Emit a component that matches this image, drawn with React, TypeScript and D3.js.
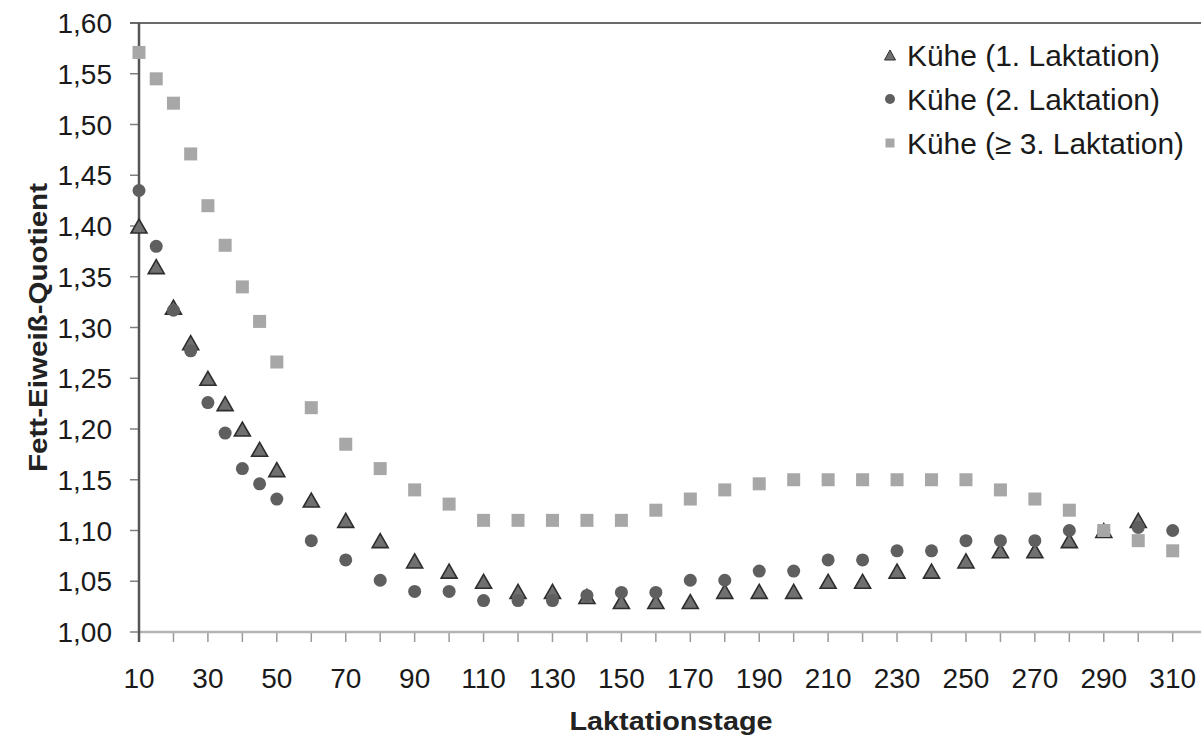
import React from "react";
import * as d3 from "d3";

const days = [10, 15, 20, 25, 30, 35, 40, 45, 50, 60, 70, 80, 90, 100, 110, 120, 130, 140, 150, 160, 170, 180, 190, 200, 210, 220, 230, 240, 250, 260, 270, 280, 290, 300, 310];

const lact1: (number | null)[] = [1.40, 1.36, 1.32, 1.285, 1.25, 1.225, 1.20, 1.18, 1.16, 1.13, 1.11, 1.09, 1.07, 1.06, 1.05, 1.04, 1.04, 1.035, 1.03, 1.03, 1.03, 1.04, 1.04, 1.04, 1.05, 1.05, 1.06, 1.06, 1.07, 1.08, 1.08, 1.09, 1.10, 1.11, null];

const lact2: (number | null)[] = [1.435, 1.38, 1.317, 1.277, 1.226, 1.196, 1.161, 1.146, 1.131, 1.09, 1.071, 1.051, 1.04, 1.04, 1.031, 1.031, 1.031, 1.036, 1.039, 1.039, 1.051, 1.051, 1.06, 1.06, 1.071, 1.071, 1.08, 1.08, 1.09, 1.09, 1.09, 1.10, 1.10, 1.103, 1.10];

const lact3: (number | null)[] = [1.571, 1.545, 1.521, 1.471, 1.42, 1.381, 1.34, 1.306, 1.266, 1.221, 1.185, 1.161, 1.14, 1.126, 1.11, 1.11, 1.11, 1.11, 1.11, 1.12, 1.131, 1.14, 1.146, 1.15, 1.15, 1.15, 1.15, 1.15, 1.15, 1.14, 1.131, 1.12, 1.10, 1.09, 1.08];

const xTicks = d3.range(10, 311, 10);
const xLabels = d3.range(10, 311, 20);
const yTicks = d3.range(0, 13).map((i) => 1 + i * 0.05);

const legendLabels = ["Kühe (1. Laktation)", "Kühe (2. Laktation)", "Kühe (≥ 3. Laktation)"];

const W = 1201;
const H = 738;
const left = 139;
const top = 23;
const bottom = 632;
const right = 1201;

const FONT = "'Liberation Sans', Arial, sans-serif";

export default function App() {
  const x = d3.scaleLinear().domain([10, 310]).range([left, 1172.7]);
  const y = d3.scaleLinear().domain([1.0, 1.6]).range([bottom, top]);
  const fmt = (v: number) => v.toFixed(2).replace(".", ",");

  const tri = (cx: number, cy: number, w: number, h: number) =>
    `M${cx - w / 2},${cy + h / 2}L${cx + w / 2},${cy + h / 2}L${cx},${cy - h / 2}Z`;

  const legendRows = [55, 99, 143];
  const legendWidths = [253, 253, 277];

  return (
    <svg
      width={W}
      height={H}
      style={{ position: "absolute", left: 0, top: 0, background: "#fff" }}
      fontFamily={FONT}
    >
      {/* y ticks & labels */}
      {yTicks.map((t, i) => (
        <g key={"yt" + i}>
          <line x1={left - 9} x2={left} y1={y(t)} y2={y(t)} stroke="#808080" strokeWidth={1.5} />
          <text x={112} y={y(t)} dy="0.36em" textAnchor="end" fontSize={28} fill="#1a1a1a">
            {fmt(t)}
          </text>
        </g>
      ))}
      {/* x ticks & labels */}
      {xTicks.map((t) => (
        <line key={"xt" + t} x1={x(t)} x2={x(t)} y1={bottom} y2={bottom + 10} stroke="#9a9a9a" strokeWidth={1.5} />
      ))}
      {xLabels.map((t) => (
        <text key={"xl" + t} x={x(t)} y={688} textAnchor="middle" fontSize={28} fill="#1a1a1a">
          {t}
        </text>
      ))}
      {/* frame */}
      <line x1={left - 9} x2={right} y1={top} y2={top} stroke="#6a6a6a" strokeWidth={2} />
      <line x1={left} x2={right} y1={bottom} y2={bottom} stroke="#b4b4b4" strokeWidth={2.5} />
      <line x1={left} x2={left} y1={top} y2={bottom + 10} stroke="#555" strokeWidth={2.5} />

      {/* titles */}
      <text
        x={671}
        y={730}
        textAnchor="middle"
        fontSize={26}
        fontWeight="bold"
        fill="#222"
        textLength={203}
        lengthAdjust="spacingAndGlyphs"
      >
        Laktationstage
      </text>
      <text
        transform={`translate(47,327.5) rotate(-90)`}
        textAnchor="middle"
        fontSize={26}
        fontWeight="bold"
        fill="#222"
        textLength={289}
        lengthAdjust="spacingAndGlyphs"
      >
        Fett-Eiweiß-Quotient
      </text>

      {/* series 1: triangles */}
      {days.map((d, i) =>
        lact1[i] == null ? null : (
          <path key={"a" + i} d={tri(x(d), y(lact1[i] as number), 16, 14)} fill="#707070" stroke="#2e2e2e" strokeWidth={1.6} strokeLinejoin="miter" />
        )
      )}
      {/* series 2: circles */}
      {days.map((d, i) =>
        lact2[i] == null ? null : (
          <circle key={"b" + i} cx={x(d)} cy={y(lact2[i] as number)} r={6.5} fill="#5f5f5f" />
        )
      )}
      {/* series 3: squares */}
      {days.map((d, i) =>
        lact3[i] == null ? null : (
          <rect key={"c" + i} x={x(d) - 6.5} y={y(lact3[i] as number) - 6.5} width={13} height={13} fill="#a7a7a7" />
        )
      )}

      {/* legend */}
      <path d={tri(890, legendRows[0], 11, 10)} fill="#707070" stroke="#2e2e2e" strokeWidth={1} />
      <circle cx={890} cy={legendRows[1]} r={5} fill="#5f5f5f" />
      <rect x={885.5} y={legendRows[2] - 4.5} width={9} height={9} fill="#a7a7a7" />
      {legendLabels.map((l, i) => (
        <text
          key={"lg" + i}
          x={907}
          y={legendRows[i] + 10.5}
          fontSize={29}
          fill="#1a1a1a"
          textLength={legendWidths[i]}
          lengthAdjust="spacingAndGlyphs"
        >
          {l}
        </text>
      ))}
    </svg>
  );
}
